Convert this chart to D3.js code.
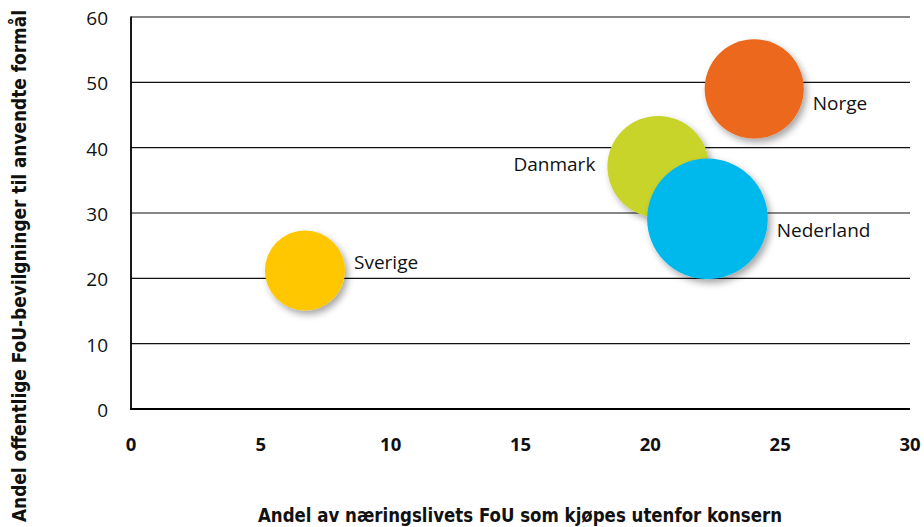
<!DOCTYPE html>
<html><head><meta charset="utf-8">
<script src="https://cdn.jsdelivr.net/npm/d3@7"></script>
<style>body{margin:0;background:#fff}svg{display:block}</style>
</head><body>
<svg id="c" width="924" height="527"></svg>
<script>
const countries = ["Sverige","Norge","Danmark","Nederland"];
const xValues = [6.7, 24.0, 20.3, 22.2];
const yValues = [21.2, 49.0, 37.1, 29.1];
const sizes = [1.60, 2.45, 2.57, 3.63];
const colors = ["#FFC700","#EC671C","#C8D42B","#00B9EC"];
const xTicks = [0,5,10,15,20,25,30];
const yTicks = [0,10,20,30,40,50,60];
const labelSide = ["right","right","left","right"];

const svg = d3.select("#c");
const font = "'Open Sans', sans-serif";
const condFont = "'DejaVu Sans Condensed','Liberation Sans Narrow','DejaVu Sans',sans-serif";
const x = d3.scaleLinear().domain([0,30]).range([131,910]);
const y = d3.scaleLinear().domain([0,60]).range([409,17]);
const r = d3.scaleSqrt().domain([0,3.63]).range([0,60.3]);

const defs = svg.append("defs");
const f = defs.append("filter").attr("id","sh").attr("x","-30%").attr("y","-30%").attr("width","170%").attr("height","170%");
f.append("feDropShadow").attr("dx",3).attr("dy",4).attr("stdDeviation",3.5).attr("flood-color","#000").attr("flood-opacity",0.35);

// gridlines
svg.append("g").selectAll("line").data(yTicks.filter(d=>d>0)).join("line")
  .attr("x1",131).attr("x2",910).attr("y1",d=>y(d)).attr("y2",d=>y(d))
  .attr("stroke","#111").attr("stroke-width",1.2);
// axes
svg.append("line").attr("x1",131).attr("x2",131).attr("y1",y(60)-0.6).attr("y2",y(0)).attr("stroke","#000").attr("stroke-width",1.8);
svg.append("line").attr("x1",130).attr("x2",910).attr("y1",y(0)).attr("y2",y(0)).attr("stroke","#000").attr("stroke-width",2);

// y tick labels
svg.append("g").selectAll("text").data(yTicks).join("text")
  .attr("x",108).attr("y",d=>y(d)+1.5).attr("dy","0.35em").attr("text-anchor","end")
  .attr("font-family",font).attr("font-size",19).attr("fill","#111").text(d=>d);
// x tick labels
svg.append("g").selectAll("text").data(xTicks).join("text")
  .attr("x",d=>x(d)).attr("y",445).attr("dy","0.35em").attr("text-anchor","middle")
  .attr("font-family",font).attr("font-weight","bold").attr("font-size",18.5).attr("fill","#111").text(d=>d);

// bubbles
const data = countries.map((c,i)=>({c,x:xValues[i],y:yValues[i],s:sizes[i],col:colors[i],side:labelSide[i]}));
const dyOff = {Sverige:-8.5, Norge:14.3, Danmark:-2, Nederland:11.5};
svg.append("g").selectAll("circle").data(data).join("circle")
  .attr("cx",d=>x(d.x)).attr("cy",d=>y(d.y)).attr("r",d=>r(d.s))
  .attr("fill",d=>d.col).attr("filter","url(#sh)");
svg.append("g").selectAll("text").data(data).join("text")
  .attr("x",d=>d.side==="right"? x(d.x)+r(d.s)+9 : x(d.x)-r(d.s)-12)
  .attr("y",d=>y(d.y)+dyOff[d.c])
  .attr("dy","0.35em").attr("text-anchor",d=>d.side==="right"?"start":"end")
  .attr("font-family",font).attr("font-size",19).attr("fill","#111").text(d=>d.c);

// axis titles
svg.append("text").attr("x",258).attr("y",522).attr("text-anchor","start")
  .attr("font-family",condFont).attr("font-weight","bold").attr("font-size",19).attr("fill","#111")
  .attr("textLength",524).attr("lengthAdjust","spacingAndGlyphs")
  .text("Andel av næringslivets FoU som kjøpes utenfor konsern");
svg.append("text").attr("transform","translate(26,522) rotate(-90)").attr("text-anchor","start")
  .attr("font-family",condFont).attr("font-weight","bold").attr("font-size",19).attr("fill","#111")
  .attr("textLength",512).attr("lengthAdjust","spacingAndGlyphs")
  .text("Andel offentlige FoU-bevilgninger til anvendte formål");
</script>
</body></html>
